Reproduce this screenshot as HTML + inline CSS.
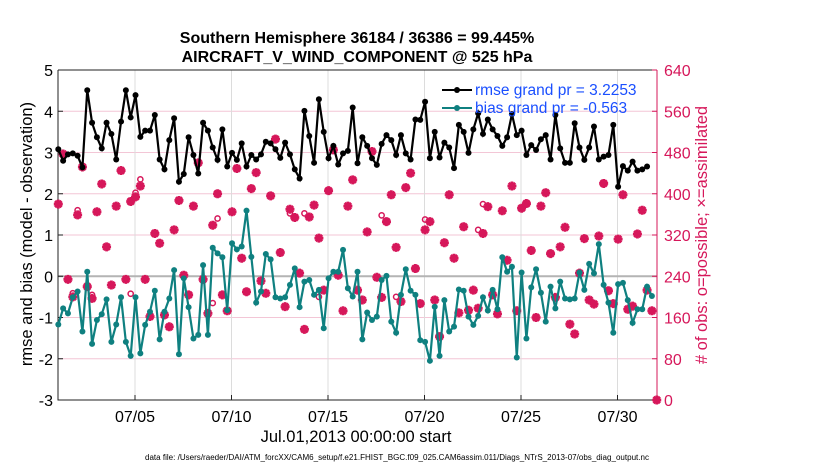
<!DOCTYPE html>
<html><head><meta charset="utf-8"><style>
body{margin:0;background:#fff;}
svg{display:block;font-family:"Liberation Sans",Arial,sans-serif;}
</style></head><body>
<svg id="chart" width="830" height="470" viewBox="0 0 830 470" xmlns="http://www.w3.org/2000/svg">
<rect width="830" height="470" fill="#fff"/>
<g id="grid"></g>
<g id="axes"></g>
<g id="series"></g>
<text x="357" y="43" text-anchor="middle" font-size="16" font-weight="bold">Southern Hemisphere 36184 / 36386 = 99.445%</text>
<text x="357" y="62" text-anchor="middle" font-size="16" font-weight="bold">AIRCRAFT_V_WIND_COMPONENT @ 525 hPa</text>
<text x="356" y="442" text-anchor="middle" font-size="16.5">Jul.01,2013 00:00:00 start</text>
<text transform="translate(32,234) rotate(-90)" text-anchor="middle" font-size="16.5">rmse and bias (model - observation)</text>
<text transform="translate(707,235) rotate(-90)" text-anchor="middle" font-size="16.5" fill="#d6175a"># of obs: o=possible; ×=assimilated</text>
<text x="397" y="460" text-anchor="middle" font-size="7.8" textLength="504" lengthAdjust="spacingAndGlyphs">data file: /Users/raeder/DAI/ATM_forcXX/CAM6_setup/f.e21.FHIST_BGC.f09_025.CAM6assim.011/Diags_NTrS_2013-07/obs_diag_output.nc</text>
<g>
<line x1="442" y1="90" x2="472" y2="90" stroke="#000" stroke-width="2"/>
<circle cx="457" cy="90" r="3" fill="#000"/>
<text x="475" y="95" font-size="15.5" fill="#1a4fff">rmse grand pr = 3.2253</text>
<line x1="442" y1="108" x2="472" y2="108" stroke="#0f8080" stroke-width="2"/>
<circle cx="457" cy="108" r="3" fill="#0f8080"/>
<text x="475" y="113" font-size="15.5" fill="#1a4fff">bias grand pr = -0.563</text>
</g>
</svg>
<script>
const rmse=[3.08,2.80,2.955,2.98,2.92,2.64,4.51,3.72,3.37,3.1,3.72,3.45,2.83,3.75,4.51,3.85,4.39,3.38,3.53,3.53,3.91,2.83,2.59,3.30,3.83,2.29,2.48,3.37,2.94,2.49,3.72,3.53,3.12,2.82,3.56,2.66,2.99,2.82,3.22,2.66,2.94,
2.83,2.955,3.26,3.22,3.08,2.87,3.24,2.955,2.59,2.37,4.01,3.40,2.75,4.29,3.50,2.86,3.16,2.71,2.98,3.04,4.09,2.74,3.37,3.16,2.86,2.70,3.21,3.42,3.30,2.94,3.42,2.98,2.83,3.80,3.79,4.23,2.86,3.50,2.88,3.24,3.12,2.62,
3.67,3.50,2.99,3.56,3.95,3.45,3.80,3.56,3.40,3.16,3.37,3.93,3.42,3.53,2.94,3.18,3.06,3.32,3.42,2.83,3.91,3.10,2.75,2.75,3.71,3.12,2.82,3.12,3.63,2.83,2.90,2.94,3.67,2.17,2.67,2.56,2.78,2.56,2.59,2.66];
const bias=[-1.17,-0.78,-0.90,-0.51,-0.37,-1.34,0.11,-1.64,-1.06,-0.92,-0.56,-1.59,-1.17,-0.51,-1.59,-1.93,-0.51,-1.87,-1.18,-0.86,-0.35,-1.53,-0.86,-0.54,0.15,-1.89,-0.05,-0.75,-1.51,-1.42,0.27,-1.42,0.69,0.555,0.46,-0.82,0.80,0.65,0.72,1.59,0.47,-0.64,
-0.37,0.54,0.41,-0.51,-0.54,-0.51,-0.21,0.19,-0.75,-0.13,-0.09,-0.45,-0.33,-1.26,-0.05,0.11,0.11,0.64,-0.29,-0.49,0.11,-1.53,-0.88,-1.06,-0.98,-0.09,0.01,-1.10,-1.37,-0.45,0.17,-0.35,-0.45,-1.55,-1.59,-2.05,-0.74,-1.93,-0.58,-1.34,-1.22,-0.32,
-0.35,-0.98,-1.18,-0.96,-0.51,-0.83,-0.33,-0.80,0.46,0.11,0.23,-1.97,0.09,-1.51,-0.27,0.17,-0.40,-1.10,-0.25,-0.78,-0.13,-0.54,-0.56,-0.54,0.09,-0.33,0.30,0.07,0.78,-0.21,-0.64,-1.37,-0.19,-0.16,-0.58,-1.13,-0.80,-0.80,-0.25,-0.48];
const nobs=[380,477,234,200,359,452,220,197,365,419,297,223,376,445,234,385,394,415,234,162,323,304,165,142,330,387,242,204,376,460,234,168,339,400,204,173,365,449,275,210,410,441,
231,207,396,506,286,181,370,354,246,137,355,378,314,213,406,485,242,173,376,427,213,194,326,482,238,199,346,398,296,191,412,440,255,187,330,346,194,123,305,398,275,169,
336,174,213,178,323,375,204,167,367,271,415,173,372,381,290,160,376,402,284,199,297,335,147,128,246,313,194,186,318,420,212,187,312,398,176,182,322,368,213,173,0];
const possIdx=[3,4,7,15,16,17,32,33,48,51,54,67,70,76,87,88];
const possVal=[207,368,204,206,402,428,188,352,362,362,200,358,200,350,330,380];
const xTickDays=[5,10,15,20,25,30];
const xTickLabels=["07/05","07/10","07/15","07/20","07/25","07/30"];
const yTicks=[-3,-2,-1,0,1,2,3,4,5];
const y2Ticks=[0,80,160,240,320,400,480,560,640];

const L=58,R=657,T=70,B=400;
const xi=i=>58.3+i*4.826;
const xd=d=>135+(d-5)*19.3;
const y=v=>B-(v+3)*(B-T)/8;
const y2=v=>B-v*(B-T)/640;
const NS="http://www.w3.org/2000/svg";
function mk(tag,attrs,parent){const e=document.createElementNS(NS,tag);for(const k in attrs)e.setAttribute(k,attrs[k]);parent.appendChild(e);return e;}
const grid=document.getElementById('grid'),axes=document.getElementById('axes'),ser=document.getElementById('series');

y2Ticks.forEach(t=>{const l=mk('line',{x1:L,x2:R,y1:y2(t),y2:y2(t),stroke:'#f3c6d6','stroke-width':1},grid);

});
xTickDays.forEach((d,k)=>{const l=mk('line',{x1:xd(d),x2:xd(d),y1:T,y2:B,stroke:'#dcdcdc','stroke-width':1},grid);


mk('line',{x1:xd(d),x2:xd(d),y1:B-5,y2:B,stroke:'#222'},axes);
const t=mk('text',{x:xd(d),y:B+22,'text-anchor':'middle','font-size':16},axes);t.textContent=xTickLabels[k];

});
const zl=mk('line',{x1:L,x2:R,y1:y(0),y2:y(0),stroke:'#b4b4b4','stroke-width':2},grid);



const fr=mk('path',{d:`M${L},${T}H${R}M${L},${T}V${B}H${R}`,stroke:'#222',fill:'none','stroke-width':1},axes);


const ra=mk('line',{x1:R,x2:R,y1:T,y2:B,stroke:'#d6175a','stroke-width':1},axes);


yTicks.forEach(t=>{mk('line',{x1:L,x2:L+5,y1:y(t),y2:y(t),stroke:'#222'},axes);
const tx=mk('text',{x:L-5,y:y(t)+6,'text-anchor':'end','font-size':16},axes);tx.textContent=t;

});
y2Ticks.forEach(t=>{mk('line',{x1:R-5,x2:R,y1:y2(t),y2:y2(t),stroke:'#d6175a'},axes);
const tx=mk('text',{x:R+7,y:y2(t)+6,'font-size':16,fill:'#d6175a'},axes);tx.textContent=t;

});

possIdx.forEach((i,k)=>{const c=mk('circle',{cx:xi(i),cy:y2(possVal[k]),r:2.6,fill:'none',stroke:'#d6175a','stroke-width':1.5},ser);

});
nobs.forEach((v,i)=>{const cx=xi(i),cy=y2(v),s=4.5;
const p=mk('path',{d:`M${cx-s},${cy}H${cx+s}M${cx},${cy-s}V${cy+s}M${cx-3.2},${cy-3.2}L${cx+3.2},${cy+3.2}M${cx-3.2},${cy+3.2}L${cx+3.2},${cy-3.2}`,stroke:'#d6175a','stroke-width':2.8,fill:'none'},ser);

});

function line(arr,col,name){
const pl=mk('polyline',{points:arr.map((v,i)=>xi(i)+','+y(v)).join(' '),fill:'none',stroke:col,'stroke-width':2.2},ser);


arr.forEach((v,i)=>{const c=mk('circle',{cx:xi(i),cy:y(v),r:3,fill:col},ser);

});}
line(bias,'#0f8080','bias');
line(rmse,'#000','rmse');
</script>
</body></html>
